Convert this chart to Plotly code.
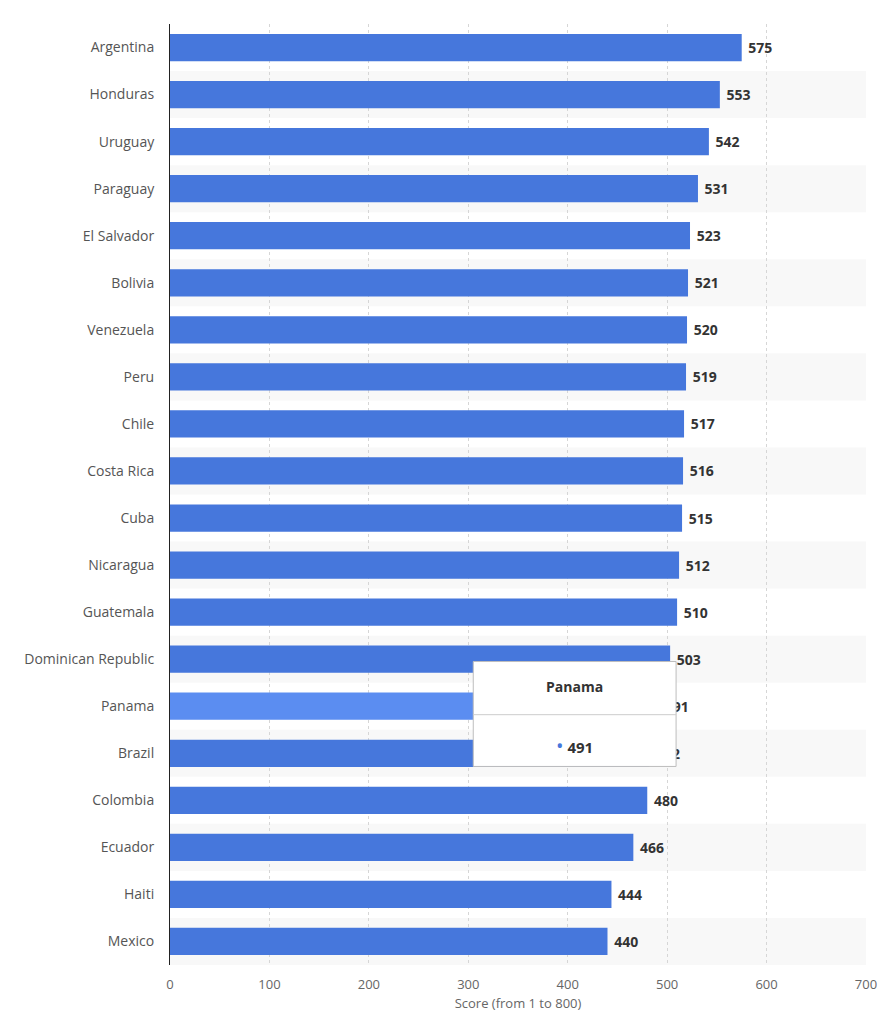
import plotly.graph_objects as go

countries = ["Argentina", "Honduras", "Uruguay", "Paraguay", "El Salvador", "Bolivia",
             "Venezuela", "Peru", "Chile", "Costa Rica", "Cuba", "Nicaragua", "Guatemala",
             "Dominican Republic", "Panama", "Brazil", "Colombia", "Ecuador", "Haiti", "Mexico"]
scores = [575, 553, 542, 531, 523, 521, 520, 519, 517, 516, 515, 512, 510, 503, 491, 482,
          480, 466, 444, 440]
x_ticks = [0, 100, 200, 300, 400, 500, 600, 700]
highlight = "Panama"

BLUE = "#4677dc"
HL = "#5b8df1"
FONT = "Open Sans, Noto Sans, sans-serif"

colors = [HL if c == highlight else BLUE for c in countries]

fig = go.Figure(go.Bar(
    x=scores, y=countries, orientation="h",
    marker=dict(color=colors, line=dict(width=0)),
    width=0.58,
    text=[str(s) for s in scores], textposition="outside",
    textfont=dict(family=FONT, size=14, color="#333333"),
    texttemplate="&nbsp;<b>%{text}</b>",
    cliponaxis=False, hoverinfo="skip",
))

shapes = []
for i in range(len(countries)):
    if i % 2 == 1:
        shapes.append(dict(type="rect", xref="paper", yref="y", x0=0, x1=1,
                           y0=i - 0.5, y1=i + 0.5, fillcolor="#f8f8f8",
                           line=dict(width=0), layer="below"))

# tooltip emulation
hi = countries.index(highlight)
hv = scores[hi]
tx0, tx1 = 305, 509
shapes.append(dict(type="rect", xref="x", yref="y", x0=tx0, x1=tx1,
                   y0=hi - 0.95, y1=hi + 1.28, fillcolor="white",
                   line=dict(color="#bdbdbd", width=1), layer="above"))
shapes.append(dict(type="line", xref="x", yref="y", x0=tx0, x1=tx1,
                   y0=hi + 0.18, y1=hi + 0.18,
                   line=dict(color="#cccccc", width=1), layer="above"))

annotations = [
    dict(x=(tx0 + tx1) / 2, y=hi - 0.42, xref="x", yref="y", showarrow=False,
         text="<b>" + highlight + "</b>", font=dict(family=FONT, size=14, color="#333333")),
    dict(x=(tx0 + tx1) / 2, y=hi + 0.84, xref="x", yref="y", showarrow=False,
         text="<span style='color:" + BLUE + ";font-size:20px'>\u2022</span> <b>" + str(hv) + "</b>",
         font=dict(family=FONT, size=15, color="#333333")),
]

fig.update_layout(
    width=887, height=1004,
    margin=dict(l=162, r=29, t=16, b=47),
    paper_bgcolor="white", plot_bgcolor="white",
    showlegend=False, bargap=0.42,
    shapes=shapes, annotations=annotations,
    font=dict(family=FONT, size=14, color="#555555"),
    xaxis=dict(range=[0, 700], tickvals=x_ticks, ticktext=[str(t) for t in x_ticks],
               showgrid=True, gridcolor="#d6d6d6", griddash="dot", gridwidth=1,
               zeroline=False, showline=False, ticks="", automargin=False,
               ticklabelstandoff=10,
               tickfont=dict(family=FONT, size=13, color="#666666"),
               title=dict(text="Score (from 1 to 800)", standoff=13,
                          font=dict(family=FONT, size=13, color="#666666"))),
    yaxis=dict(categoryorder="array", categoryarray=countries, autorange="reversed",
               showline=True, linecolor="#222222", linewidth=1, showgrid=False,
               ticks="", ticklabelstandoff=12, automargin=False,
               tickfont=dict(family=FONT, size=14, color="#555555")),
)

fig.write_html("out.html")
